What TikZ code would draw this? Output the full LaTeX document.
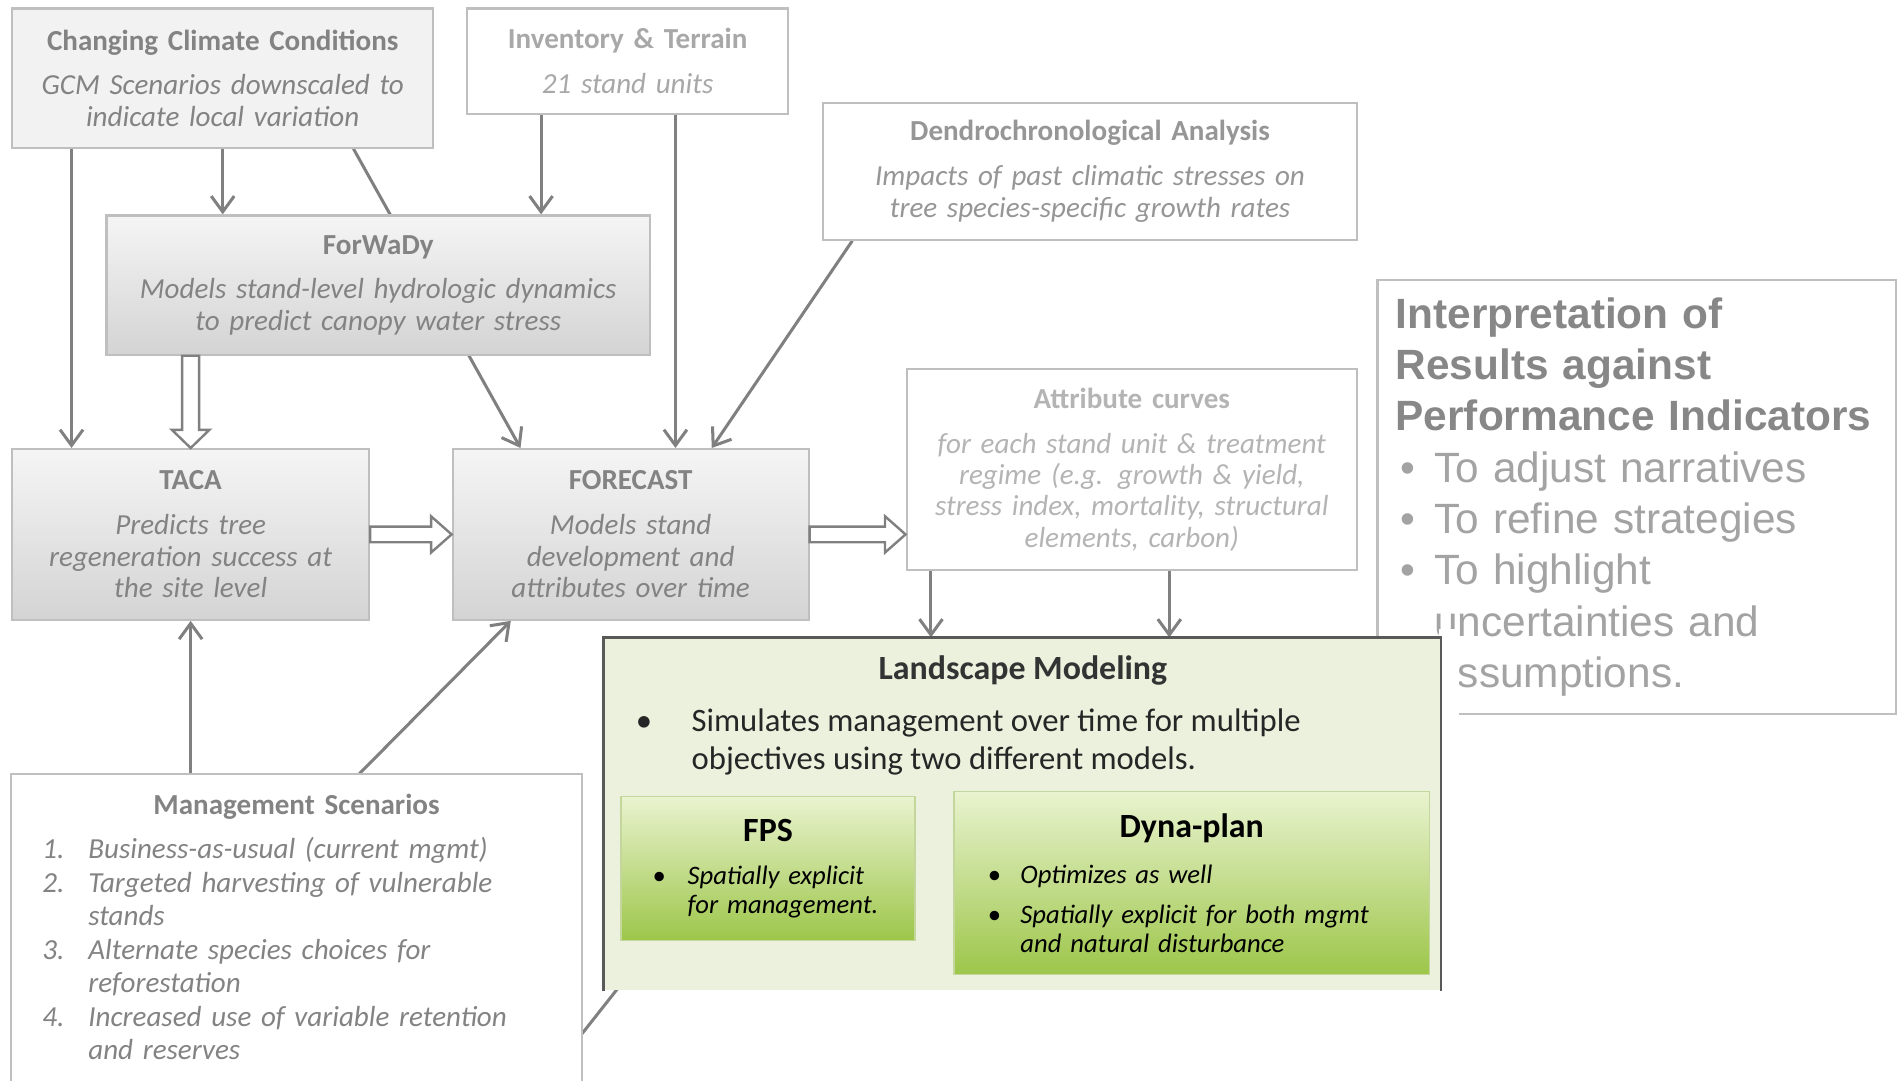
\documentclass[tikz,border=0pt]{standalone}
\usepackage{fontspec}
\setmainfont{Carlito}
\newfontfamily\arialfont{Liberation Sans}
\usetikzlibrary{positioning,calc,backgrounds,arrows.meta}

\definecolor{linegray}{HTML}{808080}
\definecolor{boxgray}{HTML}{BFBFBF}
\definecolor{textgray}{HTML}{838383}
\definecolor{palegray}{HTML}{A8A8A8}
\definecolor{fadegray}{HTML}{B4B4B4}
\definecolor{interphead}{HTML}{878787}
\definecolor{interptext}{HTML}{A3A3A3}
\definecolor{landfill}{HTML}{EBF1DD}
\definecolor{landline}{HTML}{595959}
\definecolor{greentop}{HTML}{E9F3CF}
\definecolor{greenbot}{HTML}{9DC64A}
\definecolor{greenline}{HTML}{C3D69B}

\newcommand{\boxtext}[2]{\textbf{#1}\\[5.5pt]\itshape #2}
\newcommand{\bul}[1]{\makebox[#1][l]{\textbullet}}

\begin{document}
\begin{tikzpicture}[x=0.5pt, y=-0.5pt, >={Straight Barb[length=6.5pt,width=9.5pt]},
	plainbox/.style={draw=boxgray, line width=0.9pt, inner xsep=0pt, inner ysep=2pt, align=center,
		font=\fontsize{12}{13}\selectfont, text=textgray},
	shadebox/.style={plainbox, top color=black!4, bottom color=black!17},
	greenbox/.style={draw=greenline, line width=0.6pt, top color=greentop, bottom color=greenbot,
		inner xsep=0pt, align=left, font=\fontsize{11}{12}\selectfont, text=black},
	link/.style={->, draw=linegray, line width=1.25pt},
	hollowdown/.style={draw=linegray, line width=1pt, fill=white, to path={
		($(\tikztostart)+(-7,0)$) -- ($(\tikztotarget)+(-7,-15)$) -- ($(\tikztotarget)+(-15.5,-15)$)
		-- (\tikztotarget) -- ($(\tikztotarget)+(15.5,-15)$) -- ($(\tikztotarget)+(7,-15)$)
		-- ($(\tikztostart)+(7,0)$) -- cycle}},
	hollowright/.style={draw=linegray, line width=1pt, fill=white, to path={
		($(\tikztostart)+(0,-6.5)$) -- ($(\tikztotarget)+(-17,-6.5)$) -- ($(\tikztotarget)+(-17,-15)$)
		-- (\tikztotarget) -- ($(\tikztotarget)+(-17,15)$) -- ($(\tikztotarget)+(-17,6.5)$)
		-- ($(\tikztostart)+(0,6.5)$) -- cycle}}]
	\useasboundingbox (0,0) rectangle (1568,893);

	% model boxes
	\node[plainbox, fill=black!5, text width=174pt, minimum height=57.5pt] (climate) at (184,64.5)
		{\boxtext{Changing Climate Conditions}{GCM Scenarios downscaled to\\indicate local variation}};
	\node[plainbox, fill=white, text=palegray, text width=132.5pt, minimum height=43.5pt] (inventory) at (518.5,50.5)
		{\boxtext{Inventory \& Terrain}{21 stand units}};
	\node[plainbox, fill=white, text=textgray!85, text width=220.5pt, minimum height=56.5pt] (dendro) at (900.5,141.5)
		{\boxtext{Dendrochronological Analysis}{Impacts of past climatic stresses on\\tree species-specific growth rates}};
	\node[shadebox, text width=224.5pt, minimum height=57.5pt] (forwady) at (312.5,235.5)
		{\boxtext{ForWaDy}{Models stand-level hydrologic dynamics\\to predict canopy water stress}};
	\node[shadebox, text width=147.5pt, minimum height=70.5pt] (taca) at (157.5,441.5)
		{\boxtext{TACA}{Predicts tree\\regeneration success at\\the site level}};
	\node[shadebox, text width=147pt, minimum height=70.5pt] (forecast) at (521,441.5)
		{\boxtext{FORECAST}{Models stand\\development and\\attributes over time}};
	\node[plainbox, fill=white, text=fadegray, text width=186pt, minimum height=83pt] (attr) at (935,388)
		{\boxtext{Attribute curves}{for each stand unit \& treatment\\regime (e.g. growth \& yield,\\stress index, mortality, structural\\elements, carbon)}};

	% management scenarios (no bottom edge)
	\node[plainbox, draw=none, fill=white, align=left, text width=235pt, minimum height=126pt,
		font=\fontsize{12}{13.85}\selectfont] (mgmt) at (245,766)
		{\makebox[\linewidth]{\bfseries Management Scenarios}\\[4.15pt]
		\itshape\hspace*{12.5pt}\makebox[19pt][l]{1.}Business-as-usual (current mgmt)\\
		\hspace*{12.5pt}\makebox[19pt][l]{2.}Targeted harvesting of vulnerable\\
		\hspace*{31.5pt}stands\\
		\hspace*{12.5pt}\makebox[19pt][l]{3.}Alternate species choices for\\
		\hspace*{31.5pt}reforestation\\
		\hspace*{12.5pt}\makebox[19pt][l]{4.}Increased use of variable retention\\
		\hspace*{31.5pt}and reserves};
	\draw[boxgray, line width=0.9pt] (mgmt.south west) -- (mgmt.north west) -- (mgmt.north east) -- (mgmt.south east);

	% interpretation
	\node[draw=boxgray, line width=0.9pt, fill=white, inner xsep=7.5pt, inner ysep=0pt, align=left,
		text width=199pt, minimum height=179.5pt, text=interptext,
		font=\arialfont\fontsize{17.5}{21.2}\selectfont] (interp) at (1352,410.5)
		{\textbf{\color{interphead}Interpretation of}\\
		\textbf{\color{interphead}Results against}\\
		\textbf{\color{interphead}Performance Indicators}\\
		\hspace*{2pt}\bul{14pt}To adjust narratives\\
		\hspace*{2pt}\bul{14pt}To refine strategies\\
		\hspace*{2pt}\bul{14pt}To highlight\\
		\hspace*{16pt}uncertainties and\\
		\hspace*{16pt}assumptions.};

	% landscape modeling
	\fill[white] (1189,520) rectangle (1205,822);
	\node[fill=landfill, inner sep=0pt, minimum width=345.5pt, minimum height=145.5pt] (land) at (844.5,672.5) {};
	\draw[landline, line width=1pt] (land.south west) -- (land.north west) -- (land.north east) -- (land.south east);
	\node[font=\bfseries\fontsize{14}{16}\selectfont, text=black!80] (landtitle) at (845,554) {Landscape Modeling};
	\node[anchor=west, align=left, inner sep=0pt, font=\fontsize{13.5}{15.5}\selectfont, text=black!85] (landtext) at (525,613)
		{\bul{23pt}Simulates management over time for multiple\\\hspace*{23pt}objectives using two different models.};
	\node[greenbox, text width=121.5pt, minimum height=59.5pt] (fps) at (634.5,717.5)
		{\makebox[\linewidth]{\bfseries\fontsize{14}{16}\selectfont FPS}\\[6pt]
		\itshape\hspace*{13pt}\bul{14.5pt}Spatially explicit\\
		\hspace*{27.5pt}for management.};
	\node[greenbox, text width=196.5pt, minimum height=75.5pt] (dyna) at (984.5,729.5)
		{\makebox[\linewidth]{\bfseries\fontsize{14}{16}\selectfont Dyna-plan}\\[7pt]
		\itshape\hspace*{14pt}\bul{13.5pt}Optimizes as well\\[4.5pt]
		\hspace*{14pt}\bul{13.5pt}Spatially explicit for both mgmt\\
		\hspace*{27.5pt}and natural disturbance};

	% hollow arrows
	\draw[hollowdown] (forwady.south -| taca.north) to (taca.north);
	\draw[hollowright] (taca.east) to (forecast.west);
	\draw[hollowright] (forecast.east) to (forecast.east -| attr.west);

	% connectors
	\begin{scope}[on background layer]
		\coordinate (invl) at ($(inventory.south)+(-71.5,0)$);
		\coordinate (invr) at ($(inventory.south)+(39.5,0)$);
		\coordinate (attrl) at ($(attr.south west)+(21,0)$);
		\coordinate (attrr) at ($(attr.south)+(31,0)$);
		\draw[link] ($(climate.south west)+(50,0)$) -- ($(taca.north west)+(50,0)$);
		\draw[link] (climate.south) -- (climate.south |- forwady.north);
		\draw[link] ($(climate.south)+(108,0)$) -- ($(forecast.north)+(-91,0)$);
		\draw[link] (invl) -- (invl |- forwady.north);
		\draw[link] (invr) -- (invr |- forecast.north);
		\draw[link] ($(dendro.south west)+(25,0)$) -- ($(forecast.north)+(67,0)$);
		\draw[link] (mgmt.north -| taca.south) -- (taca.south);
		\draw[link] ($(mgmt.north)+(52,0)$) -- ($(forecast.south)+(-99,0)$);
		\draw[link] (attrl) -- (attrl |- land.north);
		\draw[link] (attrr) -- (attrr |- land.north);
		\draw[link] ($(mgmt.south east)+(0,-39)$) -- ($(land.south west)+(39.5,-37)$);
	\end{scope}
\end{tikzpicture}
\end{document}
